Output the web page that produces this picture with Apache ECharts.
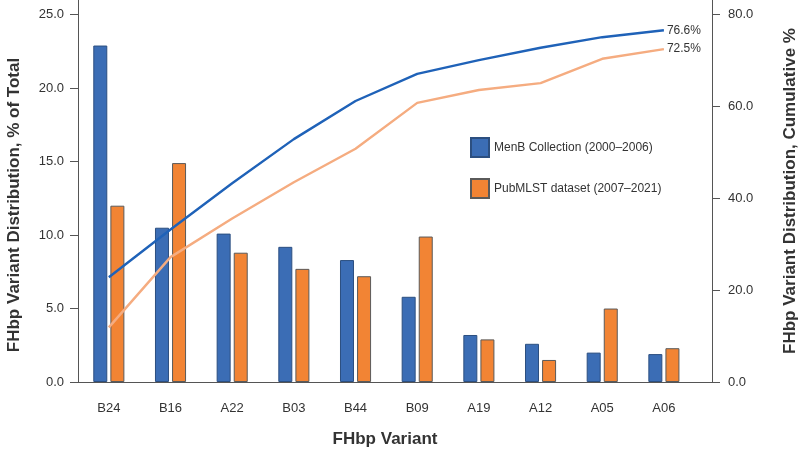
<!DOCTYPE html>
<html>
<head>
<meta charset="utf-8">
<script src="https://cdn.jsdelivr.net/npm/echarts@6/dist/echarts.min.js"></script>
<style>
  html, body { margin: 0; padding: 0; background: #fff; }
  #main { width: 800px; height: 451px; }
</style>
</head>
<body>
<div id="main"></div>
<script>
// FHbp variants, ordered as on the axis
var variants = ['B24', 'B16', 'A22', 'B03', 'B44', 'B09', 'A19', 'A12', 'A05', 'A06'];

// % of total per variant
var menbPct    = [22.9, 10.5, 10.1, 9.2, 8.3, 5.8, 3.2, 2.6, 2.0, 1.9];
var pubmlstPct = [12.0, 14.9, 8.8, 7.7, 7.2, 9.9, 2.9, 1.5, 5.0, 2.3];

// cumulative %
var menbCum    = [22.8, 33.2, 43.3, 52.9, 61.2, 67.1, 70.1, 72.8, 75.1, 76.6];
var pubmlstCum = [11.9, 27.2, 35.6, 43.5, 50.8, 60.8, 63.6, 65.1, 70.4, 72.5];

var leftTicks  = [0, 5, 10, 15, 20, 25];
var rightTicks = [0, 20, 40, 60, 80];

var seriesNames = ['MenB Collection (2000\u20132006)', 'PubMLST dataset (2007\u20132021)'];

var FONT = 'Arial, "Liberation Sans", sans-serif';

function pairs(arr) {
    return arr.map(function (v, i) { return [i, v]; });
}

var myChart = echarts.init(document.getElementById('main'));

var option = {
    animation: false,
    backgroundColor: '#fff',
    textStyle: { fontFamily: FONT },
    grid: { left: 78, right: 88, top: 0, bottom: 69, containLabel: false, outerBoundsMode: 'none' },
    legend: {
        orient: 'vertical',
        left: 465,
        top: 132,
        icon: 'rect',
        itemWidth: 18,
        itemHeight: 19,
        itemGap: 20,
        data: seriesNames,
        textStyle: { fontSize: 12, color: '#333', fontFamily: FONT }
    },
    xAxis: {
        type: 'value',
        min: -0.5,
        max: 9.78,
        splitLine: { show: false },
        axisLine: { onZero: false, lineStyle: { color: '#555', width: 1 } },
        axisTick: { show: false },
        axisLabel: {
            customValues: variants.map(function (v, i) { return i; }),
            formatter: function (v) { return variants[Math.round(v)] || ''; },
            margin: 20,
            fontSize: 13,
            color: '#333'
        },
        name: 'FHbp Variant',
        nameLocation: 'middle',
        nameGap: 49,
        nameTextStyle: { fontSize: 17, fontWeight: 'bold', color: '#333', padding: [0, 20, 0, 0] }
    },
    yAxis: [
        {
            type: 'value',
            min: 0,
            max: 26,
            splitLine: { show: false },
            axisLine: { show: true, onZero: false, lineStyle: { color: '#555', width: 1 } },
            axisTick: { show: true, length: 8, customValues: leftTicks, lineStyle: { color: '#555' } },
            axisLabel: {
                customValues: leftTicks,
                formatter: function (v) { return v.toFixed(1); },
                margin: 14,
                fontSize: 13,
                color: '#333'
            },
            name: 'FHbp Variant Distribution, % of Total',
            nameLocation: 'middle',
            nameGap: 55,
            nameTextStyle: { fontSize: 17, fontWeight: 'bold', color: '#333', padding: [0, 28, 0, 0] }
        },
        {
            type: 'value',
            min: 0,
            max: 83.2,
            position: 'right',
            splitLine: { show: false },
            axisLine: { show: true, onZero: false, lineStyle: { color: '#555', width: 1 } },
            axisTick: { show: true, length: 8, customValues: rightTicks, lineStyle: { color: '#555' } },
            axisLabel: {
                customValues: rightTicks,
                formatter: function (v) { return v.toFixed(1); },
                margin: 16,
                fontSize: 13,
                color: '#333'
            },
            name: 'FHbp Variant Distribution, Cumulative %',
            nameLocation: 'middle',
            nameGap: 70,
            nameRotate: 90,
            nameTextStyle: { fontSize: 17, fontWeight: 'bold', color: '#333' }
        }
    ],
    series: [
        {
            name: seriesNames[0],
            type: 'bar',
            barWidth: 14,
            barGap: '22%',
            data: pairs(menbPct),
            itemStyle: { color: '#3b6db5', borderColor: '#2c4f80', borderWidth: 1 }
        },
        {
            name: seriesNames[1],
            type: 'bar',
            barWidth: 14,
            barGap: '22%',
            data: pairs(pubmlstPct),
            itemStyle: { color: '#f28434', borderColor: '#5a5a5a', borderWidth: 1 }
        },
        {
            name: 'MenB cumulative',
            type: 'line',
            yAxisIndex: 1,
            symbol: 'none',
            data: pairs(menbCum),
            lineStyle: { color: '#1f62b8', width: 2.4 },
            endLabel: {
                show: true,
                distance: 3,
                color: '#333',
                fontSize: 12,
                formatter: function (p) { return p.value[1].toFixed(1) + '%'; }
            }
        },
        {
            name: 'PubMLST cumulative',
            type: 'line',
            yAxisIndex: 1,
            symbol: 'none',
            data: pairs(pubmlstCum),
            lineStyle: { color: '#f5ac80', width: 2.4 },
            endLabel: {
                show: true,
                distance: 3,
                color: '#333',
                fontSize: 12,
                formatter: function (p) { return p.value[1].toFixed(1) + '%'; }
            }
        }
    ]
};

myChart.setOption(option);
</script>
</body>
</html>
